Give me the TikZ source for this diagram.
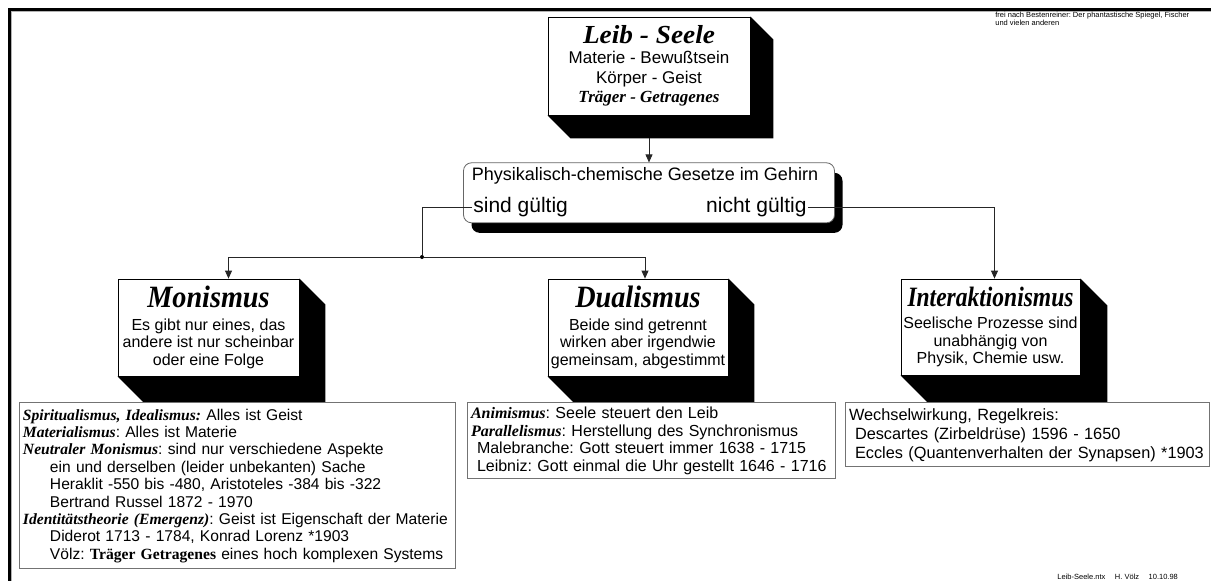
\documentclass[tikz,border=0pt]{standalone}
\usepackage{fontspec}
\setmainfont{Liberation Sans}
\newfontfamily\tmsfont{Liberation Serif}
\usepackage{graphicx}
\usetikzlibrary{arrows.meta}
\usetikzlibrary{calc}
\usetikzlibrary{positioning}
\usetikzlibrary{shadows}

\newcommand{\titel}[3]{{\fontsize{#1}{#1}\selectfont\scalebox{#2}[1]{\tmsfont\bfseries\itshape #3}}}
\newcommand{\begriff}[1]{{\tmsfont\bfseries\itshape #1}}
\frenchspacing

\begin{document}
\begin{tikzpicture}[x=1pt,y=-1pt,>={Triangle[length=8pt,width=7pt]},line width=0.8pt]
	\tikzstyle{raum}=[draw=black, fill=white, align=center, inner sep=0pt, font=\fontsize{16}{17.5}\selectfont]
	\tikzstyle{liste}=[draw=black!55, fill=white, align=left, inner xsep=4pt, inner ysep=1pt]
	\tikzstyle{verb}=[draw=black!85]
	\tikzstyle{punkt}=[fill=black, circle, inner sep=0pt, minimum size=4pt]
	\tikzstyle{klein}=[inner sep=0pt, align=left, font=\fontsize{7.5}{8}\selectfont]

	\useasboundingbox (0,0) rectangle (1211,581);
	\draw[black!30, line width=1pt] (11,581) -- (11,11) -- (1211,11);
	\draw[line width=3pt] (9,581) -- (9,9) -- (1211,9);

	\node[klein, anchor=north west] (quelle) at (995,12) {frei nach Bestenreiner: Der phantastische Spiegel, Fischer\\und vielen anderen};
	\node[klein, anchor=base west] (datei) at (1057,579) {Leib-Seele.ntx \quad H. Völz \quad 10.10.98};

	\node[raum, minimum width=202pt, minimum height=98pt, font=\fontsize{17}{19.5}\selectfont] (seele) at (649,66)
		{\titel{26}{1.05}{Leib - Seele}\\[0.5pt] Materie - Bewußtsein\\ Körper - Geist\\ \begriff{Träger - Getragenes}};
	\node[draw=black!60, fill=white, rounded corners=8pt, minimum width=371pt, minimum height=60pt,
		drop shadow={shadow xshift=8pt, shadow yshift=-10pt, fill=black, opacity=1}] (phys) [below=47pt of seele] {};
	\node[font=\fontsize{18}{20}\selectfont] (gesetz) at (645,176) {Physikalisch-chemische Gesetze im Gehirn};
	\node[font=\fontsize{21}{23}\selectfont, anchor=west, inner sep=1pt] (sind) at (472,207) {sind gültig};
	\node[font=\fontsize{21}{23}\selectfont, anchor=east, inner sep=1pt] (nicht) at (808,207) {nicht gültig};

	\node[raum, minimum width=181pt, minimum height=97pt] (mon) at (208.5,327.5)
		{\titel{31}{0.91}{Monismus}\\[5pt] Es gibt nur eines, das\\ andere ist nur scheinbar\\ oder eine Folge};
	\node[raum, minimum width=180pt, minimum height=97pt] (dual) at (638,327.5)
		{\titel{31}{0.91}{Dualismus}\\[5pt] Beide sind getrennt\\ wirken aber irgendwie\\ gemeinsam, abgestimmt};
	\node[raum, minimum width=179pt, minimum height=96pt] (inter) at (990.5,327)
		{\titel{28}{0.84}{Interaktionismus}\\[5pt] Seelische Prozesse sind\\ unabhängig von\\ Physik, Chemie usw.};

	% Schatten der Kästen
	\foreach \b/\d in {seele/23, mon/26, dual/26, inter/27}
		\fill (\b.north east) -- ++(\d,\d) -- ($(\b.south east)+(\d,\d)$) -- ($(\b.south west)+(\d,\d)$) -- (\b.south west) -- (\b.south east) -- cycle;

	\node[liste, text width=428pt, minimum height=166pt, inner ysep=0pt, font=\fontsize{15.6}{17.4}\selectfont] (monliste) [below right=26pt and -99pt of mon.south west]
		{\begriff{Spiritualismus, Idealismus:} Alles ist Geist\\
		\begriff{Materialismus}: Alles ist Materie\\
		\begriff{Neutraler Monismus}: sind nur verschiedene Aspekte\\
		\hspace*{27pt}ein und derselben (leider unbekanten) Sache\\
		\hspace*{27pt}Heraklit -550 bis -480, Aristoteles -384 bis -322\\
		\hspace*{27pt}Bertrand Russel 1872 - 1970\\
		\begriff{Identitätstheorie (Emergenz)}: Geist ist Eigenschaft der Materie\\
		\hspace*{27pt}Diderot 1713 - 1784, Konrad Lorenz *1903\\
		\hspace*{27pt}Völz: {\tmsfont\bfseries Träger Getragenes} eines hoch komplexen Systems};
	\node[liste, text width=360pt, minimum height=76pt, font=\fontsize{16}{17.5}\selectfont] (dualliste) [below right=26pt and -81pt of dual.south west]
		{\begriff{Animismus}: Seele steuert den Leib\\
		\begriff{Parallelismus}: Herstellung des Synchronismus\\
		\hspace*{6pt}Malebranche: Gott steuert immer 1638 - 1715\\
		\hspace*{6pt}Leibniz: Gott einmal die Uhr gestellt 1646 - 1716};
	\node[liste, text width=356pt, minimum height=64pt, font=\fontsize{16.3}{19}\selectfont] (interliste) [below right=27pt and -56pt of inter.south west]
		{Wechselwirkung, Regelkreis:\\
		\hspace*{6pt}Descartes (Zirbeldrüse) 1596 - 1650\\
		\hspace*{6pt}Eccles (Quantenverhalten der Synapsen) *1903};

	\node[punkt] (split) at (422,257) {};

	\draw[verb,->] ([yshift=-23pt]seele.south) -- (phys.north);
	\draw[verb] (sind.west) -| (split);
	\draw[verb,->] (split) -| ([xshift=20pt]mon.north);
	\draw[verb,->] (split) -| ([xshift=7pt]dual.north);
	\draw[verb,->] (nicht.east) -| ([xshift=4pt]inter.north);
\end{tikzpicture}
\end{document}
